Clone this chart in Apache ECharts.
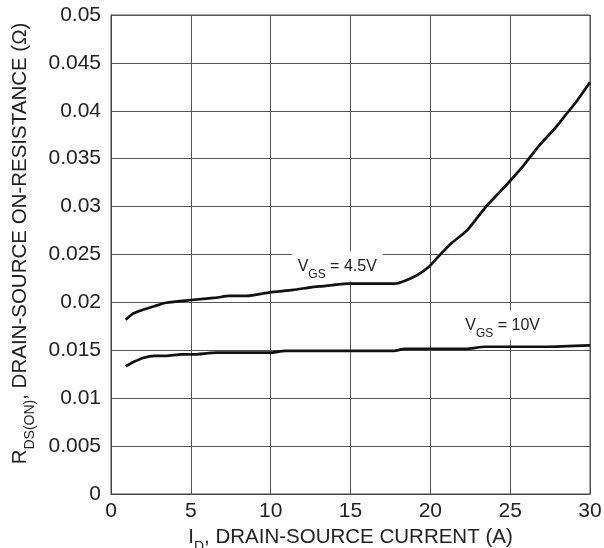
<!DOCTYPE html>
<html>
<head>
<meta charset="utf-8">
<script src="https://cdn.jsdelivr.net/npm/echarts@6/dist/echarts.min.js"></script>
<style>html,body{margin:0;padding:0;background:#fff;}#c{width:604px;height:548px;}</style>
</head>
<body>
<div id="c"></div>
<script>
const xTicks = [0, 5, 10, 15, 20, 25, 30];
const yTicks = [0, 0.005, 0.01, 0.015, 0.02, 0.025, 0.03, 0.035, 0.04, 0.045, 0.05];
const vgs45 = [[0.92,0.0182],[1.4,0.01886],[2.0,0.01923],[2.7,0.0196],[3.45,0.01996],[5.0,0.02025],[6.6,0.0205],[7.4,0.02068],[8.5,0.02068],[9.95,0.02105],[11.4,0.0213],[12.6,0.0216],[13.3,0.0217],[14.8,0.02196],[17.8,0.02196],[18.5,0.02232],[19.2,0.02287],[19.95,0.02378],[20.55,0.02487],[21.3,0.02615],[22.24,0.02742],[22.96,0.02888],[23.57,0.03015],[24.4,0.03161],[25.0,0.0327],[25.86,0.03434],[26.8,0.03634],[27.8,0.03816],[28.5,0.03962],[29.2,0.04108],[30.0,0.04297]];
const vgs10 = [[0.92,0.01333],[1.4,0.01377],[2.0,0.0142],[2.72,0.01442],[3.45,0.01442],[4.4,0.01457],[5.1,0.01457],[6.6,0.01475],[9.95,0.01475],[10.9,0.01493],[17.7,0.01493],[18.4,0.01515],[22.2,0.01515],[23.45,0.01537],[27.3,0.01537],[30.0,0.01551]];
const label45 = {x: 14.17, y: 0.02375, text: '{v|V}{s|GS}{v| = 4.5V}'};
const label10 = {x: 24.53, y: 0.01762, text: '{v|V}{s|GS}{v| = 10V}'};

const chart = echarts.init(document.getElementById('c'));
const font = 'Liberation Sans, Arial, sans-serif';
const richLbl = {
  v: {fontSize: 16, fontFamily: font, color: '#222', lineHeight: 20},
  s: {fontSize: 12, fontFamily: font, color: '#222', verticalAlign: 'bottom', lineHeight: 14, padding: [0,0,-4,0]}
};
function mp(l) {
  return {
    symbol: 'rect', symbolSize: 0, silent: true,
    data: [{coord: [l.x, l.y], value: 0}],
    label: {show: true, position: 'inside', formatter: l.text, backgroundColor: '#fff', padding: [5, 6, 5, 6], rich: richLbl}
  };
}
chart.setOption({
  animation: false,
  grid: {left: 111, right: 14, top: 15, bottom: 54, show: true, borderColor: '#444', borderWidth: 1, containLabel: false, outerBoundsMode: 'none'},
  xAxis: {
    type: 'value', min: 0, max: 30, interval: 5,
    name: '{m|I}{s|D}{m|, DRAIN-SOURCE CURRENT (A)}',
    nameLocation: 'middle', nameGap: 30,
    nameTextStyle: {rich: {
      m: {fontSize: 20.5, fontFamily: font, color: '#222', lineHeight: 24},
      s: {fontSize: 14, fontFamily: font, color: '#222', verticalAlign: 'bottom', lineHeight: 16, padding: [0,0,-5,0]}
    }},
    axisLine: {show: true, lineStyle: {color: '#444', width: 1}},
    axisTick: {show: false},
    axisLabel: {fontSize: 21, fontFamily: font, color: '#222', margin: 7,
      formatter: v => xTicks.includes(v) ? String(v) : ''},
    splitLine: {show: true, lineStyle: {color: '#555', width: 1}}
  },
  yAxis: {
    type: 'value', min: 0, max: 0.05, interval: 0.005,
    name: '{m|R}{s|DS(ON)}{m|, DRAIN-SOURCE ON-RESISTANCE (Ω)}',
    nameLocation: 'middle', nameGap: 74, nameRotate: 90,
    nameTextStyle: {padding: [0, 0, 0, 22], rich: {
      m: {fontSize: 20.5, fontFamily: font, color: '#222', lineHeight: 24},
      s: {fontSize: 14, fontFamily: font, color: '#222', verticalAlign: 'bottom', lineHeight: 16, padding: [0,0,-5,0]}
    }},
    axisLine: {show: true, lineStyle: {color: '#444', width: 1}},
    axisTick: {show: false},
    axisLabel: {fontSize: 21, fontFamily: font, color: '#222', margin: 10,
      formatter: v => { const t = yTicks.find(k => Math.abs(k - v) < 1e-9); return t === undefined ? '' : String(t); }},
    splitLine: {show: true, lineStyle: {color: '#555', width: 1}}
  },
  series: [
    {type: 'line', data: vgs45, smooth: 0.2, showSymbol: false, lineStyle: {color: '#111', width: 2.7}, markPoint: mp(label45), z: 3},
    {type: 'line', data: vgs10, smooth: 0.2, showSymbol: false, lineStyle: {color: '#111', width: 2.7}, markPoint: mp(label10), z: 3}
  ]
});
</script>
</body>
</html>
